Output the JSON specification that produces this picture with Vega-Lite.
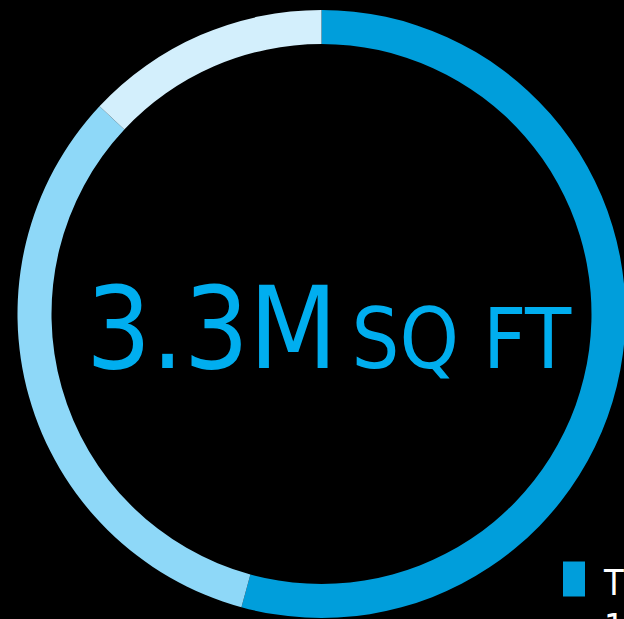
{
  "$schema": "https://vega.github.io/schema/vega-lite/v6.json",
  "width": 643,
  "height": 628,
  "padding": 0,
  "autosize": "none",
  "background": "#000000",
  "config": {"view": {"stroke": null}},
  "layer": [
    {
      "data": {"values": [
        {"idx": 1, "segment": "THE CAMPUS|1.8M SQ FT", "value": 1.79},
        {"idx": 2, "segment": "OFFICE|1.1M SQ FT", "value": 1.08},
        {"idx": 3, "segment": "RETAIL|0.4M SQ FT", "value": 0.43}
      ]},
      "mark": {"type": "arc", "outerRadius": 304, "innerRadius": 270},
      "encoding": {
        "theta": {"field": "value", "type": "quantitative", "stack": true},
        "order": {"field": "idx", "type": "quantitative"},
        "color": {
          "field": "segment",
          "type": "nominal",
          "sort": {"field": "idx"},
          "scale": {"domain": ["THE CAMPUS|1.8M SQ FT", "OFFICE|1.1M SQ FT", "RETAIL|0.4M SQ FT"], "range": ["#009EDB", "#8ED8F8", "#D3EFFC"]},
          "legend": {
            "title": null,
            "orient": "none",
            "legendX": 556,
            "legendY": 561,
            "symbolType": "M-0.63,-1H0.63V1H-0.63Z",
            "symbolSize": 1225,
            "symbolStrokeWidth": 0,
            "labelExpr": "split(datum.label, '|')",
            "labelFont": "DejaVu Sans Condensed",
            "labelFontSize": 36,
            "labelColor": "#FFFFFF",
            "labelOffset": 12,
            "labelLimit": 0,
            "labelBaseline": "alphabetic",
            "rowPadding": 60,
            "encode": {"labels": {"update": {"dy": {"value": 16}, "lineHeight": {"value": 44}}}}
          }
        }
      }
    },
    {
      "data": {"values": [{"big": "3.3M", "unit": "SQ FT"}]},
      "layer": [
        {
          "mark": {"type": "text", "align": "right", "baseline": "alphabetic", "dx": 16, "dy": 54, "font": "DejaVu Sans Condensed", "fontSize": 114, "color": "#00AEEF"},
          "encoding": {"text": {"field": "big"}}
        },
        {
          "mark": {"type": "text", "align": "left", "baseline": "alphabetic", "dx": 30, "dy": 54, "font": "DejaVu Sans Condensed", "fontSize": 84, "color": "#00AEEF"},
          "encoding": {"text": {"field": "unit"}}
        }
      ]
    }
  ]
}
